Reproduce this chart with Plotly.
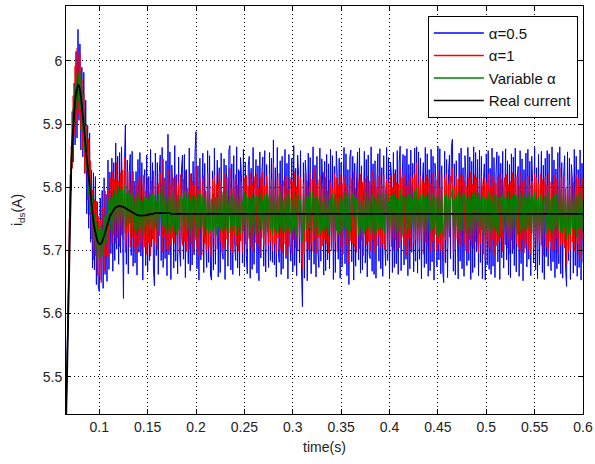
import plotly.graph_objects as go

# ---------------- data ----------------
t_start = 0.064          # first sample time (s)
t_step = 0.001           # sampling step (s)
t_end = 0.6

# real current, 1 ms samples over the transient (0.064 ... 0.174 s), then steady value
real_transient = [
    5.30, 5.38, 5.46, 5.55, 5.64, 5.72, 5.78, 5.83, 5.87, 5.90,
    5.92, 5.937, 5.95, 5.958, 5.962, 5.961, 5.955, 5.944, 5.93, 5.916,
    5.90, 5.882, 5.862, 5.846, 5.83, 5.815, 5.80, 5.785, 5.77, 5.757,
    5.745, 5.735, 5.727, 5.720, 5.715, 5.712, 5.710, 5.710, 5.711, 5.714,
    5.718, 5.723, 5.728, 5.734, 5.740, 5.745, 5.750, 5.754, 5.757, 5.760,
    5.763, 5.765, 5.767, 5.768, 5.769, 5.770, 5.770, 5.770, 5.770, 5.770,
    5.769, 5.769, 5.768, 5.767, 5.766, 5.765, 5.764, 5.763, 5.762, 5.761,
    5.760, 5.759, 5.758, 5.757, 5.757, 5.756, 5.756, 5.755, 5.755, 5.755,
    5.755, 5.755, 5.755, 5.755, 5.756, 5.756, 5.756, 5.757, 5.757, 5.757,
    5.758, 5.758, 5.758, 5.759, 5.759, 5.759, 5.759, 5.760, 5.760, 5.760,
    5.760, 5.760, 5.760, 5.760, 5.760, 5.760, 5.759, 5.759, 5.759, 5.759,
    5.758]
real_steady = 5.758

# deviations of the three estimates from the real current (mA), 1 ms samples
dev_alpha05 = [
    0, 10, 15, -20, 25, -30, 40, -35, 50, -60, 45, -70, 65, -80, 88, -55, 72, -85, 60, -68,
    82, -60, 76, -88, 68, -80, 86, -72, 57, -85, 78, -66, 90, -74, 62, -70, -75, 73, -58, 81,
    -78, 92, -66, 55, -89, 98, -80, 70, -62, 86, -96, 74, -83, 102, -67, 79, -92, 85, -74, 94,
    -84, -145, 70, 132, -88, 78, -101, 63, 90, -69, 97, -84, 52, -77, 68, -95, 88, -58, 100, -64,
    84, -102, 45, 73, -80, 95, -90, 60, -73, 103, -52, 81, -88, -115, 95, -67, 80, -98, 63, 91,
    -76, 103, -87, 55, -73, 82, -99, 125, -66, 97, -104, 77, 40, -86, 108, -75, 62, -95, 90, -56,
    -83, 71, 93, -72, 94, -101, 70, -48, -79, 104, -90, 64, -81, 83, -65, 98, 130, -87, 76, -105,
    88, -73, 58, 96, -93, 80, -38, -85, 100, -77, 92, -97, -105, 68, -89, 104, -80, 49, 85, -100,
    73, -93, 96, -62, -72, 87, -104, 77, 35, -83, 101, 108, -89, 79, -96, 92, -50, -74, 106, -86,
    70, -98, 89, 58, -78, 102, -84, 82, -66, -95, 76, 91, -102, 72, -88, 105, -80, 42, 86, -94,
    76, -106, 98, -70, 63, 90, -83, 100, -92, 78, -53, -85, 97, -74, 88, -77, 117, -81, 73, -100,
    105, -58, -77, 84, -96, 91, -87, 54, 102, -71, 80, -103, 94, -45, -75, 88, -92, 108, -82, 72,
    -98, 93, 62, -78, 100, -89, -147, 81, -102, 85, 56, -106, 96, -73, 89, -95, 68, 106, -80, 77,
    -100, 91, -60, -85, 104, -75, 87, 47, -97, 83, -90, 94, -73, 79, -87, 102, -52, 92, -104, 75,
    -93, 99, 59, -72, 88, -102, 81, -84, 43, 105, -79, 95, -98, 70, -112, 90, 101, -76, 91, -105,
    80, -83, 57, 98, -73, 104, -94, 76, -89, 50, 99, -78, 86, -100, 93, -64, -71, 106, -91, 79,
    -96, 84, -102, 54, 95, -75, 103, -87, 73, -99, 92, -43, -82, 105, -74, 89, -103, 82, 60, -93,
    97, -85, 70, -79, 100, -96, 82, 107, -90, 57, 94, -81, 92, -72, 103, -98, 78, -87, 101, -61,
    80, -92, 104, -75, 106, -94, 98, -72, 88, -103, 48, 81, -85, 105, -79, 95, -99, 70, -90, 102,
    -76, 91, -105, 80, 53, -84, 107, -73, 103, -95, 76, -89, -109, 99, -78, 86, -101, 64, 93, -71,
    106, 118, -91, 79, -97, 84, -40, -103, 96, -75, 104, -87, 73, -99, 92, 56, -82, 105, -74, 90,
    -104, 83, -93, 106, -85, 97, -60, 86, -98, 101, -77, 91, -103, 46, 79, -105, 95, -81, 100, -88,
    72, -96, 104, -83, 89, -101, 62, 98, -76, 92, -104, 80, -70, 99, -86, 51, 103, -73, 84, -97,
    78, -101, 95, -63, 90, -82, 104, -92, 57, 75, -99, 100, -79, 87, -106, 70, -55, 96, -84, 102,
    -72, 83, -98, 91, 49, -78, 105, -89, 73, -103, 94, -81, 65, 99, -93, 77, -104, 88, -68, 100,
    -83, 95, -51, -90, 106, -76, 85, -101, 71, -87, 97, -79, 106, -95, 81, -102, 60, 92, -86, -115,
    98, -74, 88, -104, 78, 55, -94, 102, -82, 91, -99, 70, -85, 101, -105, 80, -77, 96, -72, 87]

dev_alpha1 = [
    0, -8, 12, 18, -22, 30, -25, 35, -40, 45, -38, 55, -48, 62, 50, -45, 58, -52, 40, -56,
    48, -60, 35, 52, -50, 62, -44, 57, -52, 39, -60, 46, -36, 58, -55, 42, -50, 38, -62, 54,
    47, -55, 66, -43, -38, 51, -60, 36, 58, -49, 62, -41, 45, -57, 70, -50, 39, -64, 53, -46,
    58, -52, 80, -70, -44, 60, -35, 62, -57, 48, -40, 66, -53, 30, -61, 49, 56, -47, 63, -38,
    -55, 43, 64, -50, 38, -62, 57, -45, 34, -66, 52, -40, 68, -48, 59, -42, -58, 46, -37, 61,
    44, -63, 85, -40, 53, -58, 36, 70, -62, 48, -51, 65, -39, 57, -46, 60, 28, -64, 49, -55,
    62, -37, -50, 55, -44, 68, -60, 41, 33, -56, 63, -48, 52, -61, 45, -42, 75, -53, 38, -66,
    57, -41, -65, 49, 60, -47, 36, -58, 64, -52, 43, -62, -72, 55, -39, 61, -50, 47, -56, 38,
    66, -45, 52, -60, 30, -54, 63, -40, 58, -49, 47, 72, -57, 41, -63, 55, -36, 62, -51, 45,
    -59, 67, -43, 50, -62, 38, 56, -48, 61, -55, 44, -40, 65, -53, 48, -60, 37, 59, -46, 63,
    -52, 42, -64, 58, -39, 66, -50, 46, -57, 61, 35, -49, 63, -44, 54, -58, 80, -47, 41, -62,
    55, -38, 64, -56, 47, -61, 42, 53, -48, 60, -66, 39, -52, 58, 45, -63, 50, -41, 67, -54,
    43, -59, 61, -37, 56, -50, -88, 48, -62, 65, -44, 52, -57, 40, 63, -49, 55, -60, 73, -42,
    47, -63, 54, -38, 60, -56, 44, -51, 66, -40, 58, -47, 36, -62, 53, 49, -59, 41, -55, 64,
    -45, 57, -60, 46, -34, 62, -53, 48, -64, 39, 59, -50, 44, -57, -77, 61, -43, 55, -48, 66,
    -52, 40, -61, 58, 45, -55, 63, -42, 50, -66, 37, 56, -49, 60, -44, 52, -58, 47, 68, -40,
    54, -62, 43, -51, 59, -36, 65, -53, 46, -48, 61, -57, 38, 55, -63, 49, -45, 60, -52, 42,
    -58, 64, -41, 50, -60, 47, -54, 74, -43, 58, -37, 62, -50, 45, -66, 53, -39, 61, -56, 44,
    57, -48, 63, -42, 81, -59, 46, -53, 60, -38, 55, -64, 49, -45, 62, -51, 40, 58, -61, 47,
    -44, 65, -56, 39, 53, -60, 66, -47, 42, -58, 61, -50, -75, 56, -41, 63, -54, 48, -37, 59,
    50, 73, -62, 44, -57, 60, -40, 55, -48, 64, -53, 38, 61, -46, 52, -59, 43, -63, 57, -41,
    66, -50, 47, -55, 62, -44, 58, -39, -61, 54, -47, 60, 41, -64, 56, -72, 49, -43, 63, -52,
    45, -58, 61, -40, 53, -66, 48, -51, 59, -45, 64, -38, 55, -60, 42, 57, -49, 62, -54, 46,
    -63, 51, -42, 65, -56, 40, 58, -47, 61, -53, 44, -59, 66, -41, 50, -62, 55, -48, 39, 60,
    -57, 46, -64, 52, 43, -55, 63, -40, 57, -61, 48, -45, 62, -50, 54, -66, 41, 59, -52, 45,
    -60, 64, -43, 51, -58, 47, -56, 62, -39, 55, -63, 44, 73, -50, 58, -46, 61, -54, 40, -80,
    53, -61, 46, -57, 65, -44, 50, -59, 42, 62, -48, 56, -64, 45, -72, 57, -41, 60, -53, 48]

dev_variable = [
    0, 4, -6, 10, -12, 15, -14, 20, -22, 25, -18, 24, -26, 20, 22, -25, 27, -20, 23, -28,
    21, -26, 30, -19, 25, -28, 22, -24, 18, 27, -29, 23, -21, 26, -30, 20, -25, 28, -22, 19,
    -27, 31, -20, 24, -28, 17, 29, -23, 26, -31, 22, -18, 30, -25, 21, -29, 33, -22, 25, -19,
    28, -33, 36, -40, 24, -27, 31, -20, 26, -29, 18, 32, -24, 21, -30, 27, -22, 34, -19, 25,
    -31, 22, -26, 30, -17, 28, -33, 24, -21, 29, -25, 32, -40, 27, -23, 19, -28, 31, -26, 22,
    33, -21, 42, -24, 27, -32, 20, 29, -26, 23, -30, 35, -19, 26, -28, 22, -33, 30, -24, 18,
    29, -27, 23, -31, 36, -20, 25, -29, 32, -23, 21, -34, 28, -25, 19, 30, -37, 24, -22, 33,
    -26, 31, -21, 27, -35, 22, 29, -24, 18, -30, 34, -26, 23, -28, 31, -20, 26, -33, 25, -22,
    32, -25, 21, -29, 35, -23, 27, 38, -26, 20, -31, 29, -22, 33, -27, 24, -19, 30, -34, 26,
    -21, 28, -32, 23, 19, -27, 34, -25, 30, -22, 26, -36, 24, -29, 31, -20, 27, -33, 22, 28,
    -30, 25, -23, 32, -26, 21, -35, 29, -24, 33, -28, 22, 31, -25, 27, -34, 41, -23, 26, -29,
    20, -32, 28, -22, 34, -27, 24, -30, 19, 29, -26, 33, -23, 25, -31, 22, -28, 35, -21, 27,
    -33, 24, 30, -26, 22, -29, -44, 31, -25, 20, 28, -32, 26, -23, 34, -27, 21, 37, -30, 25,
    -22, 29, -34, 23, 27, -31, 20, -25, 33, -28, 24, -21, 30, -35, 26, 22, -29, 32, -24, 19,
    31, -27, 25, -33, 21, 28, -30, 23, -26, 34, -22, 29, -25, 31, -39, 24, -28, 20, 33, -23,
    26, -31, 22, 29, -34, 25, -21, 30, -27, 23, -32, 28, -24, 35, -20, 26, -30, 22, 31, -25,
    27, -33, 21, -28, 32, -24, 29, -22, 34, -26, 23, -30, 25, 31, -27, 20, -35, 28, -23, 30,
    -25, 33, -21, 26, -31, 24, -28, 38, -22, 29, -34, 27, 21, -30, 25, -23, 32, -26, 30, -20,
    24, -29, 35, -23, 41, -27, 22, -31, 28, -25, 33, -21, 26, -32, 30, -24, 20, 34, -28, 23,
    -26, 31, -22, 27, -33, 25, 29, -38, 23, -30, 34, -26, -37, 28, -21, 32, -27, 24, -31, 22,
    30, 40, -25, 23, -32, 28, -20, 35, -29, 26, -24, 31, -27, 22, 33, -30, 25, -22, 29, -34,
    24, -28, 31, -23, 36, -26, 27, -21, 33, -30, 22, -25, 29, -32, 26, -37, 23, -27, 34, -24,
    28, -31, 21, -26, 33, -22, 30, -28, 25, -34, 27, 20, -29, 32, -23, 26, -30, 24, -21, 35,
    -27, 23, -32, 29, -25, 31, -20, 28, -33, 24, 22, -30, 34, -26, 27, -23, 31, -29, 25, -22,
    33, -26, 24, -31, 28, -21, 35, -27, 23, -30, 26, -24, 32, -28, 21, -33, 29, 25, -30, 27,
    -23, 34, -28, 22, -31, 27, -25, 30, -21, 33, -26, 24, 37, -29, 25, -32, 28, -22, 30, -41,
    27, -30, 24, -33, 29, -22, 32, -26, 23, -37, 28, -25, 31, -21, 34, -27, 22, -30, 26, -24]

series_names = ["α=0.5", "α=1", "Variable α", "Real current"]
series_colors = ["#0000ff", "#ff0000", "#008000", "#000000"]

x_tick_vals = [0.1, 0.15, 0.2, 0.25, 0.3, 0.35, 0.4, 0.45, 0.5, 0.55, 0.6]
x_tick_text = ["0.1", "0.15", "0.2", "0.25", "0.3", "0.35", "0.4", "0.45", "0.5", "0.55", "0.6"]
y_tick_vals = [5.5, 5.6, 5.7, 5.8, 5.9, 6.0]
y_tick_text = ["5.5", "5.6", "5.7", "5.8", "5.9", "6"]
x_range = [0.0656, 0.6]
y_range = [5.441, 6.087]

# ---------------- build series ----------------
n_time = int(round((t_end - t_start) / t_step)) + 1
n = min(n_time, len(dev_alpha05), len(dev_alpha1), len(dev_variable))
time = [round(t_start + t_step * k, 6) for k in range(n)]
real = (real_transient + [real_steady] * n)[:n]
est05 = [r + d / 1000.0 for r, d in zip(real, dev_alpha05)]
est1 = [r + d / 1000.0 for r, d in zip(real, dev_alpha1)]
estv = [r + d / 1000.0 for r, d in zip(real, dev_variable)]

fig = go.Figure()
for k, (ys, w) in enumerate([(est05, 1.0), (est1, 1.0), (estv, 1.0), (real, 1.8)]):
    fig.add_trace(go.Scatter(
        x=time, y=ys, mode="lines", name=series_names[k], showlegend=False,
        line=dict(color=series_colors[k], width=w),
    ))
# legend entries (thin line samples as in the original legend)
for k in range(4):
    fig.add_trace(go.Scatter(
        x=[None], y=[None], mode="lines", name=series_names[k],
        line=dict(color=series_colors[k], width=1.5),
    ))

FONT = "Liberation Sans, Arial, sans-serif"
axis_common = dict(
    showline=True, linecolor="black", linewidth=1, mirror="ticks",
    ticks="inside", ticklen=5, tickcolor="black", automargin=False,
    showgrid=True, gridcolor="black", griddash="1px,3px", gridwidth=1,
    zeroline=False, tickfont=dict(family=FONT, size=14, color="#222"),
)

fig.update_layout(
    width=595, height=464,
    margin=dict(l=66, r=12, t=6, b=50),
    paper_bgcolor="white", plot_bgcolor="white",
    font=dict(family=FONT, size=14, color="#222"),
    xaxis=dict(range=x_range, tickvals=x_tick_vals, ticktext=x_tick_text,
               title=dict(text="time(s)", font=dict(family=FONT, size=14, color="#222"), standoff=8),
               **axis_common),
    yaxis=dict(range=y_range, tickvals=y_tick_vals, ticktext=y_tick_text,
               title=dict(text="i<sub>ds</sub>(A)", font=dict(family=FONT, size=14, color="#222"), standoff=16),
               **axis_common),
    legend=dict(x=0.99, y=0.976, xanchor="right", yanchor="top",
                bgcolor="white", bordercolor="black", borderwidth=1,
                font=dict(family=FONT, size=15, color="#111"),
                itemwidth=50),
    showlegend=True,
)

fig.write_html("out.html", config={"displayModeBar": False},
               post_script="document.body.style.margin='0';")
